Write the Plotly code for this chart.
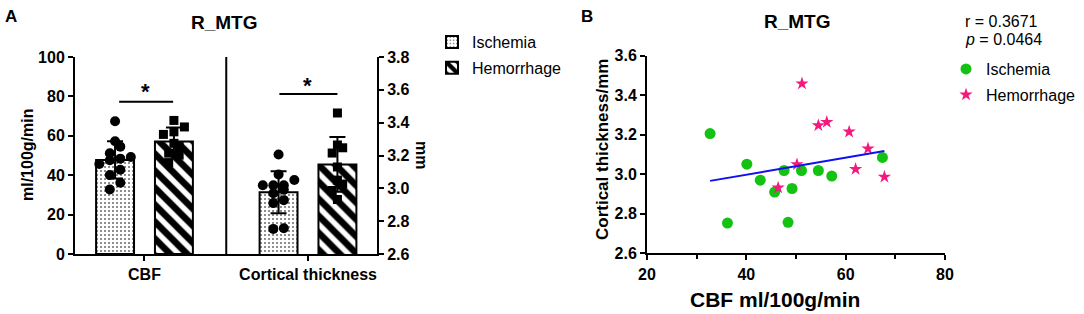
import numpy as np
import plotly.graph_objects as go

# ---------------- data ----------------
groups = ["Ischemia", "Hemorrhage"]
categories = ["CBF", "Cortical thickness"]
ischemia_cbf = [32.7, 40.1, 42.8, 45.7, 47.6, 49.2, 51.1, 54.5, 57.2, 36.2, 48.4, 67.4]
ischemia_thk = [3.206, 3.051, 2.970, 2.910, 3.019, 2.928, 3.019, 3.019, 2.991, 2.753, 2.757, 3.085]
hemorrhage_cbf = [51.2, 54.5, 56.2, 60.7, 64.5, 62.0, 67.8, 50.2, 46.4]
hemorrhage_thk = [3.459, 3.247, 3.264, 3.215, 3.130, 3.026, 2.987, 3.050, 2.932]
left_ticks = [0, 20, 40, 60, 80, 100]
right_ticks = [2.6, 2.8, 3.0, 3.2, 3.4, 3.6, 3.8]
r_text = "r = 0.3671"
p_text = "<i>p</i> = 0.0464"

# ---------------- layout constants ----------------
W, H = 1084, 314
def fx(px): return px / W
def fy(py): return 1 - py / H

FONT = "Arial, Liberation Sans, Helvetica, sans-serif"
BLACK = "black"
GREEN = "#13c213"
PINK = "#f5197f"

A_x0, A_x1, A_yb, A_yt = 75, 377, 254, 57
A_xrange = [-0.425, 1.422]
B_x0, B_x1, B_yb, B_yt = 647, 945, 253.3, 55.7
bar_off, bar_w = 0.18, 0.232

def beeswarm(vals, px_per_unit_y, px_per_unit_x, d=10.5):
    """simple row-based swarm: groups close values and spreads them horizontally"""
    v = np.asarray(vals, float)
    order = np.argsort(v)
    offs = np.zeros(len(v))
    rows, cur = [], [order[0]]
    for i in order[1:]:
        if (v[i] - v[cur[0]]) * px_per_unit_y < d * 0.75:
            cur.append(i)
        else:
            rows.append(cur); cur = [i]
    rows.append(cur)
    for row in rows:
        n = len(row)
        for k, i in enumerate(row):
            offs[i] = (k - (n - 1) / 2) * d / px_per_unit_x
    return offs

pxx = (A_x1 - A_x0) / (A_xrange[1] - A_xrange[0])
pxy1 = (A_yb - A_yt) / 100.0
pxy2 = (A_yb - A_yt) / 1.2

fig = go.Figure()

series = [
    (ischemia_cbf, 0 - bar_off, "y", ".", 4, 0.13, "circle", 10, "Ischemia", True),
    (hemorrhage_cbf, 0 + bar_off, "y", "\\", 12, 0.55, "square", 9, "Hemorrhage", True),
    (ischemia_thk, 1 - bar_off, "y2", ".", 4, 0.13, "circle", 10, "Ischemia", False),
    (hemorrhage_thk, 1 + bar_off, "y2", "\\", 12, 0.55, "square", 9, "Hemorrhage", False),
]
for vals, xc, yax, shape, psize, sol, sym, msize, name, showleg in series:
    arr = np.asarray(vals)
    fig.add_trace(go.Bar(
        x=[xc], y=[arr.mean()], width=bar_w, yaxis=yax, xaxis="x",
        name=name, legend="legend", showlegend=showleg, legendgroup=name,
        marker=dict(color="white", line=dict(color=BLACK, width=2),
                    pattern=dict(shape=shape, fgcolor=BLACK, bgcolor="white",
                                 size=psize, solidity=sol, fgopacity=1)),
        error_y=dict(type="data", array=[arr.std(ddof=1)], color=BLACK,
                     thickness=2, width=8),
    ))
for vals, xc, yax, shape, psize, sol, sym, msize, name, showleg in series:
    arr = np.asarray(vals)
    off = beeswarm(arr, pxy1 if yax == "y" else pxy2, pxx)
    fig.add_trace(go.Scatter(
        x=xc + off, y=arr, mode="markers", xaxis="x", yaxis=yax, showlegend=False,
        marker=dict(symbol=sym, size=msize, color=BLACK, line=dict(width=0)),
    ))

# panel B
fig.add_trace(go.Scatter(
    x=ischemia_cbf, y=ischemia_thk, mode="markers", xaxis="x3", yaxis="y3",
    name="Ischemia", legend="legend2", legendgroup="bI",
    marker=dict(symbol="circle", size=11, color=GREEN)))
fig.add_trace(go.Scatter(
    x=hemorrhage_cbf, y=hemorrhage_thk, mode="markers", xaxis="x3", yaxis="y3",
    name="Hemorrhage", legend="legend2", legendgroup="bH",
    marker=dict(symbol="star", size=10, color=PINK)))
allx = np.array(ischemia_cbf + hemorrhage_cbf)
ally = np.array(ischemia_thk + hemorrhage_thk)
slope, icpt = np.polyfit(allx, ally, 1)
xl = np.array([allx.min(), allx.max()])
fig.add_trace(go.Scatter(x=xl, y=slope * xl + icpt, mode="lines", xaxis="x3", yaxis="y3",
                         showlegend=False, line=dict(color="#1010f0", width=2)))

tickfont = dict(family=FONT, size=16, color=BLACK, weight="bold")
axcommon = dict(showgrid=False, zeroline=False, showline=True, linewidth=2, linecolor=BLACK,
                ticks="outside", tickwidth=2, tickcolor=BLACK, ticklen=5, tickfont=tickfont,
                automargin=False)

fig.update_layout(
    width=W, height=H, margin=dict(l=0, r=0, t=0, b=0, autoexpand=False),
    paper_bgcolor="white", plot_bgcolor="white", barmode="overlay",
    xaxis=dict(domain=[fx(A_x0), fx(A_x1)], range=A_xrange, anchor="y",
               tickvals=[0, 1], ticktext=categories, **axcommon),
    yaxis=dict(domain=[fy(A_yb), fy(A_yt)], range=[0, 100], tickvals=left_ticks,
               anchor="x", **axcommon),
    yaxis2=dict(domain=[fy(A_yb), fy(A_yt)], range=[2.6, 3.8], tickvals=right_ticks,
                tickformat=".1f", overlaying="y", side="right", anchor="x", **axcommon),
    xaxis3=dict(domain=[fx(B_x0), fx(B_x1)], range=[20, 80], dtick=20, anchor="y3",
                minor=dict(ticks="outside", dtick=10, ticklen=4, tickwidth=2, tickcolor=BLACK),
                **axcommon),
    yaxis3=dict(domain=[fy(B_yb), fy(B_yt)], range=[2.6, 3.6], dtick=0.2, tickformat=".1f",
                anchor="x3", **axcommon),
    legend=dict(x=fx(432), y=fy(25), xanchor="left", yanchor="top",
                font=dict(family=FONT, size=16, color=BLACK), tracegroupgap=2,
                bgcolor="rgba(0,0,0,0)"),
    legend2=dict(x=fx(946), y=fy(52), xanchor="left", yanchor="top",
                 font=dict(family=FONT, size=16, color=BLACK), tracegroupgap=2,
                 bgcolor="rgba(0,0,0,0)"),
    showlegend=True,
)

# divider and significance marks (panel A)
fig.add_shape(type="line", xref="x", yref="y", x0=0.5, x1=0.5, y0=0, y1=100,
              line=dict(color=BLACK, width=2))
fig.add_shape(type="line", xref="x", yref="y", x0=-0.155, x1=0.175, y0=77.3, y1=77.3,
              line=dict(color=BLACK, width=2))
fig.add_shape(type="line", xref="x", yref="y2", x0=0.825, x1=1.18, y0=3.575, y1=3.575,
              line=dict(color=BLACK, width=2))

def ann(text, x, y, size, bold=False, angle=0, xanchor="center", yanchor="middle"):
    fig.add_annotation(text=text, xref="paper", yref="paper", x=fx(x), y=fy(y),
                       showarrow=False, textangle=angle, xanchor=xanchor, yanchor=yanchor,
                       font=dict(family=FONT, size=size, color=BLACK,
                                 weight="bold" if bold else "normal"))

ann("*", 145, 92, 22, True)
ann("*", 307, 85, 22, True)
ann("A", 11, 17, 17, True)
ann("B", 587, 17, 17, True)
ann("R_MTG", 224, 23, 19, True)
ann("R_MTG", 797, 22, 19, True)
ann("ml/100g/min", 27, 155, 16, True, angle=-90)
ann("mm", 422, 155, 16, True, angle=90)
ann("Cortical thickness/mm", 602, 150, 17, True, angle=-90)
ann("CBF ml/100g/min", 775, 299, 21, True)
ann(r_text, 963, 22, 16, xanchor="left")
ann(p_text, 963, 40, 16, xanchor="left")

fig.write_html("out.html", config={"displayModeBar": False},
               post_script="document.body.style.margin='0';")
